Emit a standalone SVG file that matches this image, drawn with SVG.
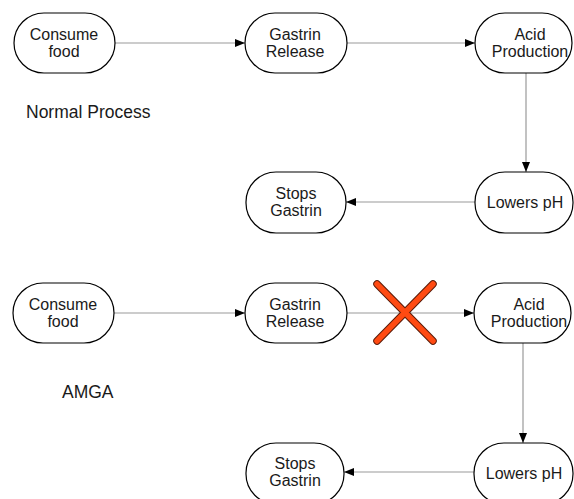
<svg xmlns="http://www.w3.org/2000/svg" width="574" height="499" viewBox="0 0 574 499">
<defs>
<style>
.n{fill:#fff;stroke:#000;stroke-width:1.2}
.t{font-family:"Liberation Sans",Arial,sans-serif;font-size:16px;fill:#1a1a1a;text-anchor:middle}
.l{font-family:"Liberation Sans",Arial,sans-serif;font-size:17.5px;fill:#1a1a1a}
.c{stroke:#999;stroke-width:1.2;fill:none;marker-end:url(#a)}
</style>
<marker id="a" viewBox="0 0 10 8" refX="10" refY="4" markerWidth="10" markerHeight="8" markerUnits="userSpaceOnUse" orient="auto">
<path d="M0,0 L10,4 L0,8 Z" fill="#000"/>
</marker>
</defs>
<rect width="574" height="499" fill="#fff"/>
<g id="connectors">
<line class="c" x1="115" y1="43" x2="245" y2="43"/>
<line class="c" x1="347" y1="43" x2="475" y2="43"/>
<line class="c" x1="526" y1="73" x2="526" y2="172"/>
<line class="c" x1="475" y1="202" x2="346" y2="202"/>
<line class="c" x1="114" y1="313" x2="245" y2="313"/>
<line class="c" x1="347" y1="313" x2="474" y2="313"/>
<line class="c" x1="523" y1="343" x2="523" y2="443"/>
<line class="c" x1="474" y1="472" x2="344" y2="472"/>
</g>
<g id="n1"><rect class="n" x="14" y="13" width="101" height="60" rx="30"/><text class="t" x="64" y="40">Consume</text><text class="t" x="64" y="57">food</text></g>
<g id="n2"><rect class="n" x="245" y="13" width="102" height="60" rx="30"/><text class="t" x="295" y="40">Gastrin</text><text class="t" x="295" y="57">Release</text></g>
<g id="n3"><rect class="n" x="475" y="13" width="97" height="60" rx="30"/><text class="t" x="530" y="40">Acid</text><text class="t" x="530" y="57">Production</text></g>
<g id="n4"><rect class="n" x="475" y="172" width="98" height="61" rx="30"/><text class="t" x="525" y="208">Lowers pH</text></g>
<g id="n5"><rect class="n" x="246" y="172" width="100" height="61" rx="30"/><text class="t" x="296" y="199">Stops</text><text class="t" x="296" y="216">Gastrin</text></g>
<g id="label1"><text class="l" x="26" y="118">Normal Process</text></g>
<g id="m1"><rect class="n" x="13" y="283" width="101" height="60" rx="30"/><text class="t" x="63" y="310">Consume</text><text class="t" x="63" y="327">food</text></g>
<g id="m2"><rect class="n" x="245" y="283" width="102" height="60" rx="30"/><text class="t" x="295" y="310">Gastrin</text><text class="t" x="295" y="327">Release</text></g>
<g id="m3"><rect class="n" x="474" y="283" width="97" height="60" rx="30"/><text class="t" x="529" y="310">Acid</text><text class="t" x="529" y="327">Production</text></g>
<g id="m4"><rect class="n" x="474" y="443" width="99" height="61" rx="30"/><text class="t" x="524" y="479">Lowers pH</text></g>
<g id="m5"><rect class="n" x="246" y="443" width="98" height="61" rx="30"/><text class="t" x="295" y="469">Stops</text><text class="t" x="295" y="486">Gastrin</text></g>
<g id="label2"><text class="l" x="62" y="398">AMGA</text></g>
<g id="cross">
<path d="M377,284 L433,341 M433,284 L377,341" stroke="#5a1a08" stroke-width="7.5" stroke-linecap="round" fill="none"/>
<path d="M377,284 L433,341 M433,284 L377,341" stroke="#ff4a12" stroke-width="5.5" stroke-linecap="round" fill="none"/>
</g>
</svg>
